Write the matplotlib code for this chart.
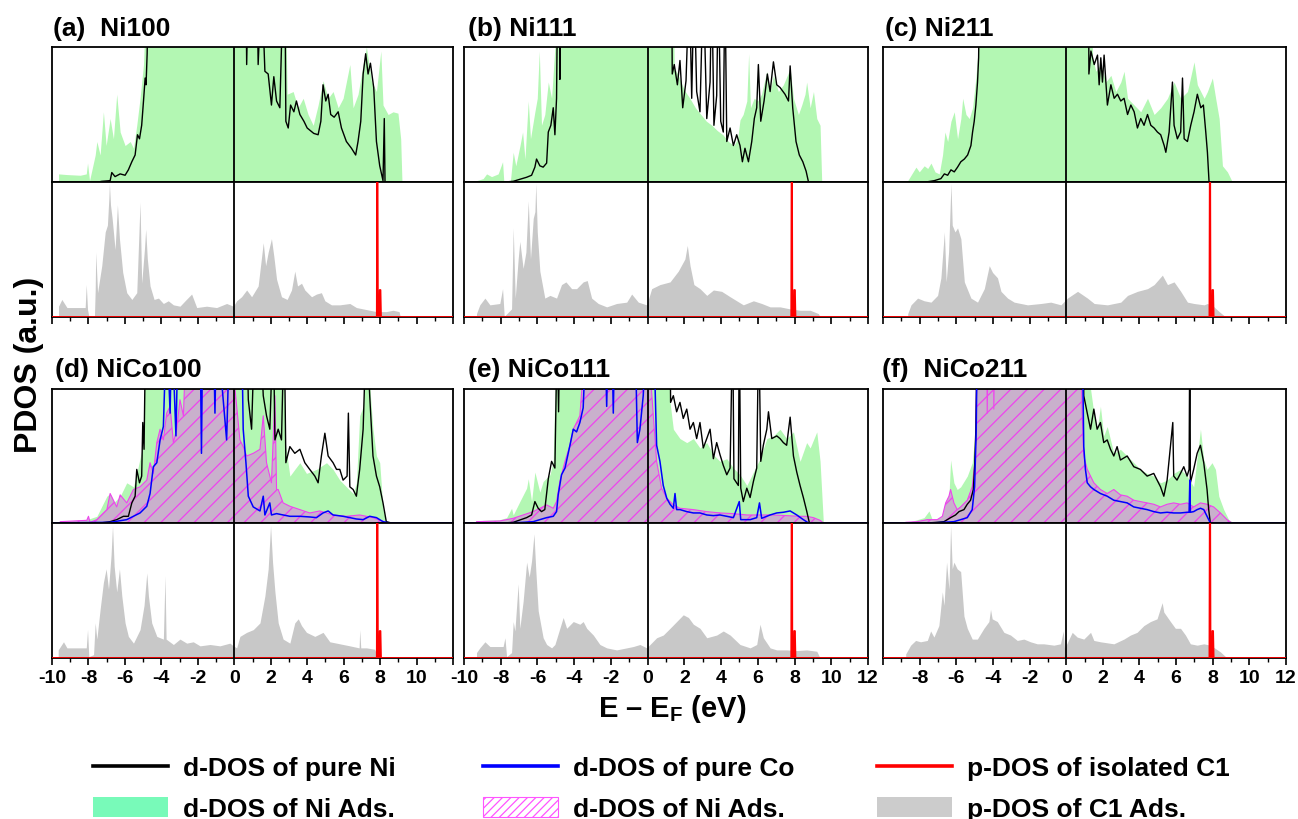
import matplotlib
matplotlib.use("Agg")
import matplotlib.pyplot as plt
from matplotlib.lines import Line2D
from matplotlib.patches import Patch
from matplotlib.ticker import MultipleLocator

plt.rcParams['font.family'] = ['Liberation Sans', 'DejaVu Sans']
plt.rcParams['font.weight'] = 'bold'
plt.rcParams['axes.unicode_minus'] = False
plt.rcParams['hatch.linewidth'] = 0.9
plt.rcParams['mathtext.fontset'] = 'custom'
plt.rcParams['mathtext.rm'] = 'Liberation Sans:bold'
plt.rcParams['mathtext.bf'] = 'Liberation Sans:bold'

# ---------------- data (E - EF in eV, normalised PDOS) ----------------
panel_titles = ['(a)  Ni100', '(b) Ni111', '(c) Ni211',
                '(d) NiCo100', '(e) NiCo111', '(f)  NiCo211']

tick_labels_left = ['-10', '-8', '-6', '-4', '-2', '0', '2', '4', '6', '8', '10']
tick_labels_mid = ['-10', '-8', '-6', '-4', '-2', '0', '2', '4', '6', '8', '10', '12']
tick_labels_right = ['-8', '-6', '-4', '-2', '0', '2', '4', '6', '8', '10', '12']

# p-DOS of isolated C1 (same reference in all panels)
c1_isolated = [(-10, 0), (7.82, 0), (7.84, 1.1), (7.86, 1.1), (7.88, 0), (7.96, 0),
               (7.98, 0.2), (8.02, 0.2), (8.05, 0.0), (12, 0)]

# (a) Ni100
ni100_ads = [(-9.64,0.06),(-9.18,0.055),(-8.45,0.05),(-8.12,0.06),(-8.05,0.14),(-7.94,0.01),(-7.63,0.2),(-7.54,0.3),(-7.36,0.2),(-7.18,0.52),(-7.03,0.27),(-6.81,0.47),(-6.63,0.32),(-6.45,0.65),(-6.26,0.37),(-5.99,0.27),(-5.71,0.3),(-5.53,0.25),(-5.35,0.42),(-5.17,0.62),(-4.98,0.87),(-4.8,1.5),(2.78,1.5),(2.9,0.65),(3.23,0.67),(3.5,0.55),(3.78,0.62),(4.05,0.5),(4.33,0.42),(4.6,0.57),(4.87,0.75),(5.15,0.62),(5.42,0.67),(5.7,0.55),(5.97,0.62),(6.34,0.87),(6.52,0.55),(6.79,0.65),(7.07,0.87),(7.25,1.0),(7.52,0.75),(7.8,0.67),(8.04,0.97),(8.16,0.57),(8.44,0.5),(8.71,0.52),(8.98,0.51),(9.13,0.32),(9.2,0.0)]
ni100_pure = [(-7.45,0),(-7.27,0.005),(-6.81,0.01),(-6.72,0.07),(-6.54,0.04),(-6.26,0.06),(-5.99,0.05),(-5.81,0.09),(-5.62,0.15),(-5.44,0.2),(-5.31,0.35),(-5.2,0.32),(-5.08,0.42),(-4.98,0.6),(-4.89,0.77),(-4.84,0.72),(-4.78,0.95),(-4.71,1.5),(0.64,1.5),(0.68,0.87),(0.77,1.5),(1.25,1.5),(1.31,0.87),(1.5,1.5),(1.68,0.82),(1.86,0.8),(2.04,0.57),(2.17,0.78),(2.32,0.6),(2.5,0.55),(2.59,1.0),(2.68,1.5),(2.78,1.5),(2.83,0.45),(2.96,0.4),(3.09,0.57),(3.27,0.52),(3.41,0.6),(3.6,0.5),(3.82,0.45),(4.0,0.4),(4.18,0.38),(4.36,0.36),(4.6,0.35),(4.75,0.45),(4.87,0.72),(5.02,0.6),(5.15,0.65),(5.29,0.5),(5.48,0.48),(5.7,0.52),(5.88,0.4),(6.15,0.3),(6.43,0.25),(6.66,0.2),(6.79,0.3),(6.94,0.45),(7.07,0.8),(7.21,0.95),(7.34,0.8),(7.47,0.88),(7.65,0.7),(7.8,0.3),(7.98,0.12),(8.16,0.01),(8.23,0.47),(8.27,0.0),(8.71,0.0)]
ni100_c1 = [(-9.64,0.08),(-9.46,0.13),(-9.18,0.07),(-8.18,0.07),(-8.12,0.24),(-8.05,0.055),(-7.98,0.005),(-7.67,0.01),(-7.63,0.2),(-7.6,0.48),(-7.5,0.18),(-7.27,0.38),(-7.08,0.63),(-6.96,0.68),(-6.88,0.88),(-6.85,0.99),(-6.79,0.83),(-6.7,0.73),(-6.54,0.5),(-6.41,0.83),(-6.3,0.58),(-6.12,0.33),(-5.9,0.18),(-5.62,0.13),(-5.35,0.18),(-5.17,0.85),(-5.08,0.25),(-4.93,0.5),(-4.86,0.65),(-4.77,0.43),(-4.62,0.23),(-4.4,0.13),(-4.16,0.14),(-3.89,0.1),(-3.62,0.12),(-3.34,0.09),(-2.98,0.08),(-2.7,0.12),(-2.34,0.17),(-2.06,0.07),(-1.52,0.08),(-0.97,0.07),(-0.42,0.1),(-0.05,0.08),(0.13,0.12),(0.4,0.15),(0.68,0.2),(0.95,0.15),(1.31,0.23),(1.59,0.55),(1.72,0.38),(1.86,0.48),(2.04,0.58),(2.17,0.45),(2.32,0.28),(2.59,0.15),(2.9,0.13),(3.14,0.2),(3.32,0.34),(3.47,0.23),(3.69,0.25),(3.87,0.2),(4.24,0.15),(4.51,0.17),(4.78,0.18),(4.97,0.12),(5.33,0.09),(5.79,0.09),(6.34,0.1),(6.7,0.07),(7.25,0.055),(7.8,0.04),(8.34,0.04),(8.71,0.05),(9.04,0.04),(9.11,0)]

# (b) Ni111
ni111_ads = [(-9.32,0.01),(-8.96,0.025),(-8.77,0.06),(-8.5,0.04),(-8.14,0.06),(-7.9,0.15),(-7.83,0.0),(-7.47,0.01),(-7.32,0.22),(-7.18,0.12),(-6.95,0.27),(-6.81,0.37),(-6.68,0.17),(-6.5,0.6),(-6.38,0.32),(-6.14,0.52),(-6.01,0.62),(-5.9,0.97),(-5.78,0.42),(-5.6,0.5),(-5.41,0.74),(-5.23,0.62),(-5.05,1.0),(-4.96,1.5),(1.38,1.5),(1.45,0.85),(1.7,0.78),(2.0,0.68),(2.3,0.62),(2.6,0.55),(2.9,0.5),(3.2,0.45),(3.5,0.42),(3.8,0.38),(4.1,0.35),(4.4,0.3),(4.7,0.27),(4.9,0.32),(5.03,0.46),(5.2,0.5),(5.4,0.6),(5.5,0.95),(5.6,0.55),(5.8,0.62),(6.0,0.6),(6.2,0.65),(6.49,0.82),(6.67,0.67),(6.85,0.79),(7.12,0.67),(7.39,0.72),(7.76,0.84),(7.94,0.62),(8.21,0.5),(8.39,0.57),(8.57,0.65),(8.66,0.74),(8.85,0.55),(9.03,0.67),(9.21,0.47),(9.39,0.42),(9.48,0.0)]
ni111_pure = [(-7.77,0),(-7.32,0.005),(-6.96,0.02),(-6.59,0.035),(-6.32,0.05),(-6.14,0.11),(-6.05,0.17),(-5.87,0.12),(-5.69,0.11),(-5.5,0.14),(-5.41,0.37),(-5.27,0.42),(-5.14,0.55),(-5.05,0.35),(-4.96,0.62),(-4.9,1.5),(-4.81,1.5),(-4.78,0.76),(-4.72,1.5),(1.31,1.5),(1.34,0.8),(1.45,0.87),(1.62,0.72),(1.76,0.9),(1.91,0.55),(2.09,0.75),(2.27,1.5),(2.4,0.62),(2.53,1.5),(2.67,0.67),(2.85,0.52),(3.03,1.5),(3.22,0.47),(3.4,0.74),(3.49,1.5),(3.61,0.42),(3.76,0.64),(3.85,1.5),(3.98,0.45),(4.12,0.37),(4.21,1.5),(4.31,0.3),(4.49,0.4),(4.67,0.27),(4.85,0.35),(5.03,0.27),(5.16,0.15),(5.3,0.25),(5.49,0.15),(5.67,0.3),(5.81,0.47),(5.94,0.55),(6.03,0.87),(6.16,0.45),(6.34,0.6),(6.52,0.8),(6.67,0.67),(6.85,0.89),(7.03,0.72),(7.21,0.7),(7.48,0.65),(7.67,0.6),(7.76,0.86),(7.9,0.55),(8.08,0.3),(8.26,0.2),(8.45,0.15),(8.63,0.08),(8.76,0.0),(9.21,0)]
ni111_c1 = [(-9.32,0.025),(-9.14,0.09),(-8.86,0.14),(-8.59,0.09),(-8.05,0.1),(-7.9,0.21),(-7.81,0.005),(-7.41,0.06),(-7.32,0.66),(-7.21,0.14),(-7.05,0.43),(-6.96,0.56),(-6.78,0.36),(-6.63,0.48),(-6.5,0.86),(-6.38,0.43),(-6.23,0.73),(-6.14,0.78),(-6.09,0.99),(-6.01,0.63),(-5.87,0.34),(-5.6,0.14),(-5.32,0.16),(-4.96,0.14),(-4.69,0.24),(-4.45,0.26),(-4.14,0.21),(-3.87,0.21),(-3.51,0.26),(-3.29,0.27),(-3.05,0.14),(-2.69,0.1),(-2.23,0.075),(-1.69,0.1),(-1.14,0.11),(-0.87,0.17),(-0.51,0.11),(-0.05,0.09),(0.22,0.21),(0.67,0.24),(1.22,0.26),(1.67,0.34),(2.03,0.43),(2.16,0.53),(2.31,0.38),(2.52,0.24),(2.85,0.21),(3.22,0.16),(3.58,0.2),(4.03,0.19),(4.49,0.15),(4.85,0.12),(5.21,0.09),(5.76,0.12),(6.21,0.1),(6.67,0.075),(7.21,0.075),(7.76,0.06),(8.3,0.05),(8.85,0.05),(9.3,0.025),(9.39,0)]

# (c) Ni211
ni211_ads = [(-8.65,0.01),(-8.47,0.05),(-8.2,0.11),(-8.02,0.075),(-7.75,0.12),(-7.56,0.1),(-7.38,0.14),(-7.16,0.075),(-6.93,0.06),(-6.75,0.2),(-6.62,0.37),(-6.47,0.3),(-6.29,0.45),(-6.11,0.52),(-5.93,0.32),(-5.75,0.47),(-5.65,0.62),(-5.47,0.5),(-5.29,0.47),(-5.11,0.55),(-4.93,0.77),(-4.8,1.0),(-4.75,1.5),(1.35,1.5),(1.44,0.92),(1.62,0.82),(1.89,0.87),(2.16,0.74),(2.44,0.79),(2.71,0.67),(2.98,0.74),(3.16,0.82),(3.35,0.62),(3.71,0.57),(4.07,0.52),(4.44,0.62),(4.8,0.5),(5.16,0.55),(5.53,0.62),(5.89,0.74),(6.25,0.62),(6.62,0.67),(6.98,0.89),(7.16,0.72),(7.53,0.62),(7.71,0.67),(7.98,0.77),(8.16,0.62),(8.35,0.47),(8.53,0.12),(8.8,0.075),(9.07,0)]
ni211_pure = [(-7.65,0),(-7.2,0.01),(-6.84,0.025),(-6.65,0.06),(-6.47,0.05),(-6.29,0.09),(-6.11,0.075),(-5.93,0.11),(-5.75,0.15),(-5.56,0.17),(-5.38,0.2),(-5.2,0.27),(-5.11,0.37),(-5.02,0.45),(-4.93,0.57),(-4.84,0.74),(-4.78,0.92),(-4.73,1.5),(1.22,1.5),(1.24,0.8),(1.35,0.97),(1.53,0.87),(1.71,0.94),(1.8,0.72),(1.89,0.92),(1.98,0.74),(2.07,0.94),(2.25,0.57),(2.44,0.72),(2.62,0.62),(2.8,0.65),(2.98,0.6),(3.16,0.62),(3.35,0.5),(3.53,0.57),(3.71,0.52),(3.89,0.4),(4.07,0.47),(4.25,0.42),(4.44,0.5),(4.62,0.42),(4.8,0.4),(4.98,0.37),(5.16,0.35),(5.35,0.27),(5.44,0.22),(5.62,0.37),(5.8,0.74),(5.89,0.42),(6.07,0.32),(6.25,0.37),(6.35,0.77),(6.44,0.32),(6.62,0.3),(6.8,0.42),(6.98,0.52),(7.16,0.65),(7.35,0.55),(7.49,0.57),(7.62,0.37),(7.71,0.22),(7.8,0.0),(8.25,0)]
ni211_c1 = [(-8.65,0.025),(-8.47,0.09),(-8.11,0.14),(-7.75,0.12),(-7.38,0.11),(-7.02,0.16),(-6.84,0.29),(-6.65,0.63),(-6.55,0.26),(-6.42,0.48),(-6.29,0.99),(-6.22,0.68),(-6.07,0.63),(-5.93,0.66),(-5.75,0.58),(-5.56,0.26),(-5.2,0.14),(-4.84,0.11),(-4.47,0.21),(-4.2,0.38),(-4.02,0.33),(-3.75,0.29),(-3.56,0.19),(-3.2,0.14),(-2.84,0.11),(-2.11,0.09),(-1.38,0.1),(-0.84,0.11),(-0.29,0.09),(0.07,0.14),(0.62,0.19),(1.16,0.14),(1.53,0.1),(2.25,0.09),(2.98,0.11),(3.35,0.16),(3.89,0.19),(4.44,0.21),(4.8,0.24),(5.25,0.31),(5.53,0.24),(5.89,0.26),(6.25,0.19),(6.62,0.11),(6.98,0.1),(7.53,0.09),(7.71,0.1),(8.07,0.075),(8.35,0.04),(8.71,0)]

# (d) NiCo100
nico100_ads = [(-9.55,0.01),(-8.09,0.025),(-7.54,0.05),(-6.99,0.2),(-6.81,0.22),(-6.63,0.15),(-6.26,0.2),(-5.9,0.3),(-5.53,0.27),(-5.35,0.37),(-4.98,0.6),(-4.86,1.5),(2.68,1.5),(2.78,0.62),(3.05,0.35),(3.32,0.4),(3.6,0.45),(3.96,0.37),(4.51,0.4),(5.06,0.45),(5.42,0.4),(5.79,0.32),(6.15,0.27),(6.52,0.22),(6.7,0.3),(6.88,0.8),(7.07,0.87),(7.25,1.5),(7.47,0.95),(7.61,0.7),(7.8,0.5),(7.98,0.45),(8.16,0.1),(8.34,0)]
nico100_ni = [(-7.36,0),(-6.81,0.01),(-6.45,0.025),(-6.08,0.05),(-5.81,0.05),(-5.62,0.15),(-5.44,0.2),(-5.35,0.4),(-5.2,0.3),(-5.08,0.35),(-5.02,0.75),(-4.95,0.55),(-4.86,1.5),(0.68,1.5),(0.77,0.92),(0.95,0.7),(1.13,1.5),(1.41,1.5),(1.59,0.95),(1.77,0.8),(1.95,0.7),(2.14,1.5),(2.23,0.62),(2.41,0.7),(2.59,0.62),(2.74,1.5),(2.83,0.45),(3.05,0.57),(3.32,0.52),(3.6,0.55),(3.87,0.45),(4.14,0.4),(4.42,0.35),(4.6,0.3),(4.78,0.5),(4.97,0.67),(5.15,0.5),(5.42,0.45),(5.61,0.4),(5.79,0.4),(5.97,0.32),(6.19,0.35),(6.26,0.82),(6.34,0.27),(6.52,0.25),(6.7,0.2),(6.88,0.4),(7.07,0.7),(7.25,1.5),(7.43,0.95),(7.61,0.5),(7.8,0.35),(7.98,0.27),(8.16,0.15),(8.34,0.01),(8.62,0)]
nico100_co = [(-10,0),(-6.81,0.005),(-5.9,0.025),(-5.17,0.075),(-4.8,0.125),(-4.62,0.22),(-4.44,0.42),(-4.25,0.45),(-4.07,0.62),(-3.89,0.72),(-3.71,1.5),(-3.52,0.82),(-3.43,1.5),(-3.2,0.65),(-3.07,1.5),(-1.88,1.5),(-1.8,0.52),(-1.73,1.5),(-1.15,1.5),(-1.06,0.82),(-0.97,1.5),(-0.42,0.62),(-0.24,1.5),(0.4,1.5),(0.49,0.7),(0.64,0.45),(0.77,0.2),(1.04,0.12),(1.41,0.09),(1.59,0.2),(1.68,0.06),(1.95,0.15),(2.04,0.06),(2.32,0.07),(2.68,0.06),(3.05,0.05),(3.6,0.05),(4.14,0.045),(4.51,0.04),(4.87,0.075),(5.15,0.09),(5.42,0.06),(5.97,0.05),(6.34,0.04),(6.7,0.03),(7.07,0.025),(7.43,0.05),(7.8,0.04),(8.16,0.01),(8.53,0.0),(12,0)]
nico100_ni_ads = [(-9.55,0.01),(-8.09,0.02),(-8.0,0.05),(-7.91,0.005),(-7.54,0.025),(-7.36,0.05),(-6.99,0.1),(-6.81,0.22),(-6.63,0.17),(-6.45,0.12),(-6.26,0.21),(-5.9,0.15),(-5.53,0.25),(-5.17,0.27),(-4.8,0.32),(-4.62,0.45),(-4.44,0.37),(-4.25,0.6),(-4.07,0.7),(-3.89,0.62),(-3.71,0.82),(-3.52,0.87),(-3.34,0.6),(-3.16,0.7),(-2.98,0.92),(-2.79,0.8),(-2.61,1.5),(-0.05,1.5),(0.04,1.0),(0.31,0.62),(0.49,0.57),(0.68,0.5),(1.04,0.52),(1.41,0.55),(1.59,0.8),(1.77,0.45),(2.04,0.3),(2.23,0.95),(2.32,0.25),(2.41,0.25),(2.68,0.15),(3.05,0.125),(3.6,0.1),(4.14,0.075),(4.69,0.09),(5.06,0.075),(5.42,0.06),(6.15,0.05),(6.88,0.06),(7.25,0.05),(7.61,0.04),(7.98,0.02),(8.34,0.005),(8.44,0)]
nico100_c1 = [(-9.66,0.06),(-9.37,0.12),(-9.18,0.075),(-8.12,0.075),(-8.05,0.21),(-7.98,0.01),(-7.72,0.025),(-7.63,0.26),(-7.54,0.14),(-7.36,0.36),(-7.18,0.56),(-7.03,0.66),(-6.9,0.51),(-6.76,0.76),(-6.68,0.98),(-6.59,0.68),(-6.45,0.49),(-6.3,0.66),(-6.17,0.46),(-5.99,0.26),(-5.81,0.16),(-5.53,0.11),(-5.17,0.21),(-4.95,0.39),(-4.8,0.63),(-4.71,0.46),(-4.53,0.26),(-4.25,0.16),(-3.89,0.14),(-3.8,0.61),(-3.74,0.14),(-3.34,0.1),(-2.98,0.14),(-2.61,0.11),(-2.25,0.12),(-1.88,0.09),(-1.33,0.1),(-0.79,0.09),(-0.24,0.11),(-0.05,0.09),(0.13,0.075),(0.31,0.16),(0.68,0.19),(1.04,0.21),(1.41,0.26),(1.68,0.46),(1.86,0.66),(1.99,0.98),(2.1,0.71),(2.23,0.49),(2.41,0.26),(2.68,0.14),(3.05,0.11),(3.32,0.26),(3.51,0.29),(3.69,0.24),(3.96,0.19),(4.42,0.16),(4.87,0.19),(5.24,0.12),(5.61,0.11),(5.97,0.1),(6.34,0.09),(6.85,0.075),(6.88,0.21),(6.94,0.075),(7.25,0.075),(7.7,0.065),(7.89,0)]

# (e) NiCo111
nico111_ads = [(-9.32,0.01),(-8.96,0.02),(-8.05,0.025),(-7.68,0.04),(-7.41,0.11),(-7.32,0.06),(-6.96,0.16),(-6.59,0.26),(-6.5,0.33),(-6.32,0.16),(-6.14,0.38),(-5.87,0.23),(-5.69,0.31),(-5.32,0.36),(-5.14,0.46),(-4.96,1.5),(1.04,1.5),(1.22,0.9),(1.4,0.7),(1.76,0.63),(2.13,0.6),(2.49,0.63),(2.85,0.56),(3.22,0.6),(3.58,0.51),(3.94,0.46),(4.31,0.48),(4.67,0.41),(5.03,0.36),(5.4,0.28),(5.76,0.38),(6.12,0.48),(6.49,0.63),(6.85,0.65),(7.21,0.7),(7.57,0.63),(7.94,0.68),(8.3,0.46),(8.66,0.6),(8.85,0.56),(9.21,0.68),(9.39,0.46),(9.57,0)]
nico111_ni = [(-7.87,0),(-7.32,0.005),(-6.59,0.04),(-6.32,0.06),(-6.14,0.16),(-5.96,0.11),(-5.78,0.085),(-5.6,0.1),(-5.41,0.33),(-5.23,0.46),(-5.05,0.41),(-4.92,1.5),(-4.85,0.83),(-4.78,1.5),(1.22,1.5),(1.25,0.9),(1.4,0.95),(1.58,0.83),(1.76,0.9),(1.94,0.78),(2.13,0.85),(2.31,0.7),(2.49,0.75),(2.67,0.63),(2.85,0.75),(3.03,0.56),(3.22,0.63),(3.4,0.7),(3.58,0.48),(3.76,0.6),(3.94,0.51),(4.12,0.43),(4.31,0.36),(4.49,0.41),(4.63,1.5),(4.7,0.33),(4.94,0.28),(4.99,1.5),(5.07,0.26),(5.21,0.16),(5.4,0.26),(5.58,0.19),(5.76,0.31),(5.94,0.41),(6.05,1.5),(6.16,0.46),(6.3,0.58),(6.49,0.7),(6.58,0.83),(6.76,0.63),(7.03,0.65),(7.21,0.63),(7.39,0.6),(7.57,0.58),(7.76,0.79),(7.94,0.5),(8.12,0.38),(8.3,0.28),(8.48,0.19),(8.66,0.09),(8.81,0.0),(9.21,0)]
nico111_co = [(-10,0),(-7.68,0),(-6.78,0.005),(-6.23,0.01),(-5.87,0.025),(-5.5,0.04),(-5.14,0.05),(-4.96,0.085),(-4.87,0.21),(-4.69,0.36),(-4.5,0.41),(-4.23,0.58),(-4.05,0.7),(-3.87,0.68),(-3.69,0.75),(-3.51,0.86),(-3.32,1.5),(-2.33,1.5),(-2.23,0.87),(-2.14,1.5),(-1.96,1.5),(-1.87,0.82),(-1.78,1.5),(-0.69,1.5),(-0.56,0.6),(-0.42,0.7),(-0.24,0.95),(-0.05,1.5),(0.31,1.5),(0.49,0.58),(0.67,0.46),(0.85,0.28),(1.04,0.185),(1.22,0.14),(1.4,0.11),(1.49,0.22),(1.58,0.1),(1.76,0.1),(2.13,0.085),(2.49,0.075),(2.85,0.075),(3.22,0.06),(3.58,0.055),(3.94,0.06),(4.31,0.05),(4.67,0.04),(4.99,0.16),(5.07,0.025),(5.58,0.025),(5.94,0.04),(6.09,0.15),(6.21,0.035),(6.67,0.06),(7.03,0.075),(7.39,0.08),(7.76,0.09),(8.12,0.06),(8.48,0.025),(8.76,0.0),(12,0)]
nico111_ni_ads = [(-9.32,0.01),(-8.05,0.015),(-7.32,0.035),(-6.78,0.06),(-6.23,0.085),(-5.87,0.11),(-5.5,0.135),(-5.14,0.11),(-4.96,0.16),(-4.78,0.31),(-4.5,0.46),(-4.23,0.58),(-4.05,0.7),(-3.69,0.8),(-3.32,1.5),(-0.05,1.5),(0.31,0.8),(0.49,0.46),(0.76,0.26),(1.04,0.185),(1.4,0.135),(1.76,0.11),(2.49,0.1),(3.22,0.085),(3.94,0.075),(4.67,0.07),(5.4,0.06),(6.12,0.06),(6.85,0.06),(7.57,0.055),(8.3,0.05),(8.66,0.05),(9.03,0.04),(9.39,0.02),(9.57,0.0)]
nico111_c1 = [(-9.32,0.04),(-9.14,0.075),(-8.86,0.12),(-8.59,0.085),(-7.87,0.085),(-7.77,0.15),(-7.68,0.01),(-7.41,0.04),(-7.32,0.27),(-7.23,0.2),(-7.05,0.55),(-6.96,0.22),(-6.78,0.42),(-6.59,0.71),(-6.45,0.6),(-6.32,0.72),(-6.19,0.92),(-6.09,0.65),(-5.96,0.35),(-5.69,0.15),(-5.5,0.1),(-5.23,0.075),(-5.05,0.1),(-4.78,0.22),(-4.6,0.3),(-4.41,0.22),(-4.05,0.27),(-3.69,0.25),(-3.51,0.27),(-3.32,0.22),(-2.96,0.17),(-2.6,0.1),(-2.23,0.075),(-1.69,0.06),(-1.14,0.075),(-0.78,0.085),(-0.42,0.1),(-0.05,0.075),(0.13,0.1),(0.49,0.15),(0.85,0.17),(1.22,0.22),(1.58,0.27),(1.94,0.32),(2.22,0.3),(2.49,0.25),(2.85,0.22),(3.22,0.15),(3.76,0.17),(4.12,0.2),(4.49,0.17),(5.03,0.1),(5.58,0.075),(5.94,0.1),(6.12,0.25),(6.3,0.15),(6.67,0.075),(7.03,0.06),(7.57,0.06),(8.12,0.055),(8.66,0.06),(9.21,0.05),(9.39,0)]

# (f) NiCo211
nico211_ads = [(-8.76,0.005),(-8.49,0.01),(-8.13,0.025),(-7.76,0.04),(-7.49,0.09),(-7.31,0.025),(-6.85,0.04),(-6.58,0.1),(-6.4,0.2),(-6.31,0.47),(-6.13,0.3),(-5.95,0.25),(-5.76,0.27),(-5.4,0.35),(-5.13,0.45),(-4.95,0.7),(-4.85,1.5),(1.15,1.5),(1.33,1.0),(1.51,0.82),(1.69,0.7),(1.87,0.87),(2.05,0.65),(2.24,0.72),(2.6,0.52),(2.96,0.55),(3.33,0.5),(3.69,0.45),(4.05,0.4),(4.42,0.37),(4.78,0.35),(5.15,0.3),(5.51,0.32),(5.87,0.37),(6.24,0.4),(6.6,0.35),(6.96,0.27),(7.33,0.7),(7.51,0.47),(7.69,0.4),(7.96,0.45),(8.15,0.4),(8.33,0.2),(8.6,0.1),(8.87,0.025),(9.15,0)]
nico211_ni = [(-7.58,0),(-7.04,0.005),(-6.67,0.01),(-6.31,0.04),(-6.04,0.06),(-5.85,0.085),(-5.58,0.1),(-5.4,0.14),(-5.22,0.17),(-5.07,0.25),(-5.0,0.42),(-4.93,0.7),(-4.85,1.5),(0.93,1.5),(0.96,0.95),(1.15,0.82),(1.33,0.7),(1.51,0.85),(1.69,0.7),(1.87,0.75),(2.05,0.6),(2.24,0.62),(2.42,0.55),(2.6,0.5),(2.78,0.57),(2.96,0.47),(3.33,0.5),(3.69,0.42),(4.05,0.4),(4.42,0.35),(4.78,0.37),(5.15,0.27),(5.33,0.2),(5.51,0.32),(5.82,0.75),(5.87,0.35),(6.05,0.32),(6.24,0.37),(6.42,0.42),(6.6,0.35),(6.71,0.4),(6.75,1.5),(6.78,0.3),(6.96,0.4),(7.15,0.52),(7.33,0.58),(7.51,0.45),(7.69,0.25),(7.78,0.1),(7.87,0.0),(8.24,0)]
nico211_co = [(-10,0),(-7.4,0),(-6.67,0.005),(-6.13,0.01),(-5.76,0.025),(-5.4,0.04),(-5.13,0.1),(-5.0,0.27),(-4.91,0.7),(-4.85,1.5),(0.87,1.5),(0.96,0.57),(1.05,0.4),(1.15,0.3),(1.33,0.27),(1.51,0.25),(1.87,0.22),(2.24,0.2),(2.6,0.17),(2.96,0.16),(3.33,0.15),(3.69,0.12),(4.05,0.11),(4.42,0.1),(4.78,0.085),(5.15,0.075),(5.51,0.08),(5.87,0.075),(6.24,0.075),(6.6,0.08),(6.71,0.08),(6.75,0.32),(6.78,0.08),(6.96,0.085),(7.15,0.1),(7.33,0.11),(7.51,0.1),(7.69,0.05),(7.87,0.0),(12,0)]
nico211_ni_ads = [(-8.76,0.005),(-8.13,0.01),(-7.58,0.025),(-7.04,0.025),(-6.76,0.05),(-6.58,0.15),(-6.4,0.2),(-6.31,0.25),(-6.13,0.15),(-5.95,0.1),(-5.76,0.12),(-5.4,0.17),(-5.13,0.27),(-4.95,0.5),(-4.85,1.5),(-4.35,1.5),(-4.31,0.82),(-4.25,1.5),(-3.98,1.5),(-3.95,0.85),(-3.89,1.5),(0.78,1.5),(0.87,0.82),(0.96,0.5),(1.15,0.4),(1.33,0.35),(1.51,0.3),(1.87,0.25),(2.24,0.22),(2.6,0.25),(2.96,0.21),(3.33,0.2),(3.69,0.17),(4.05,0.16),(4.42,0.15),(4.78,0.14),(5.15,0.12),(5.51,0.14),(5.87,0.15),(6.24,0.14),(6.6,0.15),(6.96,0.12),(7.33,0.15),(7.69,0.14),(8.05,0.12),(8.42,0.075),(8.78,0.025),(9.05,0)]
nico211_c1 = [(-8.76,0.03),(-8.49,0.095),(-8.22,0.13),(-7.95,0.12),(-7.58,0.13),(-7.4,0.2),(-7.22,0.155),(-6.95,0.24),(-6.76,0.49),(-6.67,0.39),(-6.53,0.71),(-6.4,0.51),(-6.31,0.98),(-6.22,0.66),(-6.13,0.71),(-5.95,0.66),(-5.76,0.64),(-5.58,0.31),(-5.4,0.22),(-5.13,0.14),(-4.85,0.14),(-4.49,0.22),(-4.22,0.27),(-4.13,0.36),(-4.04,0.29),(-3.76,0.27),(-3.4,0.19),(-3.04,0.17),(-2.67,0.13),(-2.31,0.14),(-1.95,0.12),(-1.58,0.105),(-1.22,0.105),(-0.67,0.095),(-0.31,0.105),(-0.16,0.2),(-0.09,0.07),(0.33,0.19),(0.6,0.155),(0.96,0.14),(1.33,0.19),(1.51,0.13),(1.87,0.12),(2.6,0.105),(3.15,0.14),(3.51,0.17),(3.87,0.19),(4.24,0.24),(4.6,0.27),(4.96,0.29),(5.24,0.41),(5.33,0.34),(5.69,0.27),(5.96,0.22),(6.24,0.22),(6.51,0.17),(6.78,0.105),(7.15,0.095),(7.51,0.105),(7.87,0.095),(8.15,0.07),(8.42,0.045),(8.78,0)]

# ---------------- styling ----------------
GREEN = '#b3f7b3'
GREEN_LEG = '#78fab9'
GRAY = '#c8c8c8'
GRAY_LEG = '#cccccc'
HATCH_FACE = '#c9b0cc'
MAGENTA = '#ee44ee'

W, H = 1298, 820
fig = plt.figure(figsize=(W / 100, H / 100), dpi=100)


def rect(l, t, r, b):
    return [l / W, 1 - b / H, (r - l) / W, (b - t) / H]


def xy(pairs):
    return [p[0] for p in pairs], [p[1] for p in pairs]


cols = [(52, 453), (464, 868), (883, 1286)]
rows = [(48, 183, 318), (390, 524, 659)]
title_pos = [(53, 36), (468, 36), (885, 36), (55, 377), (468, 377), (882, 377)]
col_tick_labels = [tick_labels_left, tick_labels_mid, tick_labels_right]

panels = [
    dict(ads=ni100_ads, ni=ni100_pure, c1=ni100_c1),
    dict(ads=ni111_ads, ni=ni111_pure, c1=ni111_c1),
    dict(ads=ni211_ads, ni=ni211_pure, c1=ni211_c1),
    dict(ads=nico100_ads, ni=nico100_ni, co=nico100_co, hatch=nico100_ni_ads, c1=nico100_c1),
    dict(ads=nico111_ads, ni=nico111_ni, co=nico111_co, hatch=nico111_ni_ads, c1=nico111_c1),
    dict(ads=nico211_ads, ni=nico211_ni, co=nico211_co, hatch=nico211_ni_ads, c1=nico211_c1),
]

for i, p in enumerate(panels):
    r, c = divmod(i, 3)
    l, rr = cols[c]
    top, mid, bot = rows[r]
    at = fig.add_axes(rect(l, top, rr, mid))
    ab = fig.add_axes(rect(l, mid, rr, bot))
    for ax in (at, ab):
        ax.set_xlim(-10, 12)
        ax.set_ylim(0, 1)
        ax.set_yticks([])
        for s in ax.spines.values():
            s.set_linewidth(1.3)
        ax.axvline(0, color='black', lw=1.3, zorder=6)

    at.set_xticks([])
    x, y = xy(p['ads'])
    at.fill_between(x, y, 0, color=GREEN, lw=0, zorder=1)
    if 'hatch' in p:
        x, y = xy(p['hatch'])
        at.fill_between(x, y, 0, facecolor=HATCH_FACE, edgecolor=MAGENTA,
                        hatch='//', lw=0.8, zorder=2)
    x, y = xy(p['ni'])
    at.plot(x, y, color='black', lw=1.0, zorder=3)
    if 'co' in p:
        x, y = xy(p['co'])
        at.plot(x, y, color='#0000ff', lw=1.1, zorder=4)

    x, y = xy(p['c1'])
    ab.fill_between(x, y, 0, color=GRAY, lw=0, zorder=1)
    x, y = xy(c1_isolated)
    ab.plot(x, y, color='#ff0000', lw=1.3, zorder=3)

    majors = list(range(-10, 13, 2))
    labs = col_tick_labels[c]
    ab.set_xticks(majors, [str(m) if str(m) in labs else '' for m in majors])
    ab.xaxis.set_minor_locator(MultipleLocator(1))
    ab.tick_params(axis='x', which='major', direction='out', length=5, width=1.2,
                   labelsize=14, pad=3, labelbottom=(r == 1))
    ab.tick_params(axis='x', which='minor', direction='out', length=3, width=1.0)
    for t in ab.get_xticklabels():
        t.set_fontweight('bold')

    tx, ty = title_pos[i]
    fig.text(tx / W, 1 - ty / H, panel_titles[i], fontsize=19, fontweight='bold',
             ha='left', va='baseline')

fig.text(29 / W, 1 - 365 / H, 'PDOS (a.u.)', rotation=90, fontsize=23,
         fontweight='bold', ha='center', va='center')
fig.text(672 / W, 1 - 709 / H, r'E – E$_\mathrm{F}$ (eV)', fontsize=21,
         fontweight='bold', ha='center', va='center')

legend_cols = [
    ([Line2D([], [], color='black', lw=2.6), Patch(facecolor=GREEN_LEG, edgecolor='none')],
     ['d-DOS of pure Ni', 'd-DOS of Ni Ads.'], 93),
    ([Line2D([], [], color='#0000ff', lw=2.6),
      Patch(facecolor='white', edgecolor='#ff55ff', hatch='////', lw=0.8)],
     ['d-DOS of pure Co', 'd-DOS of Ni Ads.'], 483),
    ([Line2D([], [], color='#ff0000', lw=2.6), Patch(facecolor=GRAY_LEG, edgecolor='none')],
     ['p-DOS of isolated C1', 'p-DOS of C1 Ads.'], 877),
]
for handles, labels, lx in legend_cols:
    fig.legend(handles, labels, loc='upper left', bbox_to_anchor=(lx / W, 1 - 757 / H),
               frameon=False, borderpad=0, borderaxespad=0, handlelength=2.85,
               handleheight=0.8, handletextpad=0.55, labelspacing=0.62,
               prop={'size': 19, 'weight': 'bold'})

fig.savefig('out.png', dpi=100)
